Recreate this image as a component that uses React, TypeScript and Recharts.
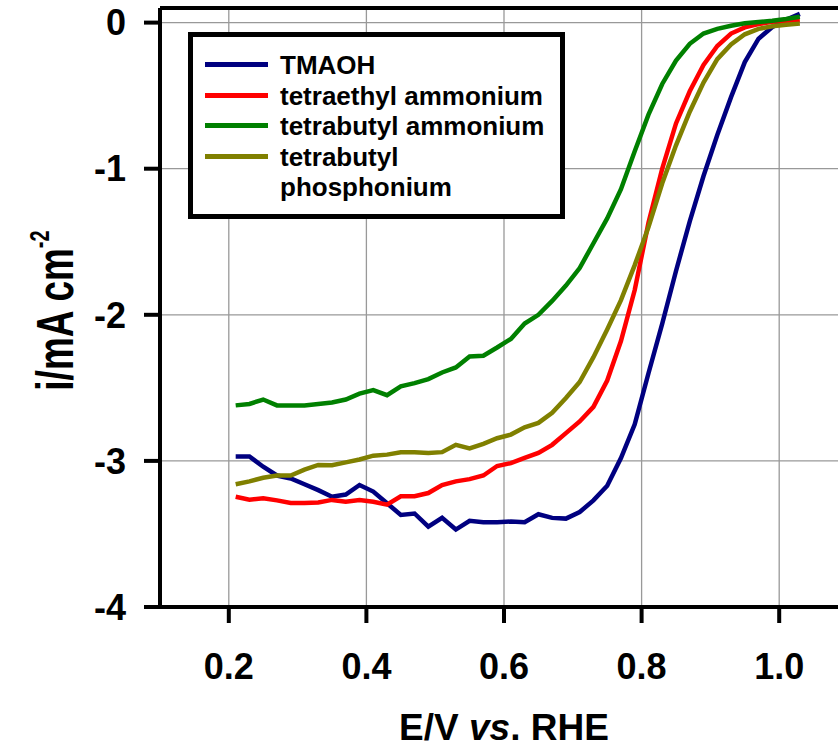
import React from 'react';
import { LineChart, Line, XAxis, YAxis, CartesianGrid, Legend, ReferenceLine } from 'recharts';

const FONT = '"Liberation Sans", Arial, Helvetica, sans-serif';

// Potential (V vs. RHE)
const voltage = [
  0.21, 0.23, 0.25, 0.27, 0.29, 0.31, 0.33, 0.35, 0.37, 0.39,
  0.41, 0.43, 0.45, 0.47, 0.49, 0.51, 0.53, 0.55, 0.57, 0.59,
  0.61, 0.63, 0.65, 0.67, 0.69, 0.71, 0.73, 0.75, 0.77, 0.79,
  0.81, 0.83, 0.85, 0.87, 0.89, 0.91, 0.93, 0.95, 0.97, 0.99,
  1.01, 1.03,
];

const tmaoh = [
  -2.97, -2.97, -3.04, -3.1, -3.12, -3.16, -3.2, -3.245, -3.23, -3.165,
  -3.21, -3.29, -3.37, -3.36, -3.45, -3.39, -3.47, -3.41, -3.42, -3.42,
  -3.415, -3.42, -3.365, -3.39, -3.395, -3.35, -3.27, -3.17, -2.98, -2.75,
  -2.4, -2.06, -1.7, -1.36, -1.05, -0.77, -0.51, -0.27, -0.11, -0.03,
  0.02, 0.06,
];

const tetraethylAmmonium = [
  -3.245, -3.265, -3.256, -3.27, -3.288, -3.288, -3.285, -3.267, -3.28, -3.268,
  -3.28, -3.3, -3.242, -3.242, -3.22, -3.165, -3.14, -3.125, -3.1, -3.035,
  -3.015, -2.98, -2.945, -2.89, -2.81, -2.73, -2.63, -2.45, -2.18, -1.83,
  -1.37, -1.0, -0.69, -0.47, -0.29, -0.16, -0.075, -0.033, -0.01, 0.005,
  0.012, 0.016,
];

const tetrabutylAmmonium = [
  -2.62, -2.61, -2.58, -2.62, -2.62, -2.62, -2.61, -2.6, -2.58, -2.54,
  -2.515, -2.55, -2.49, -2.468, -2.44, -2.395, -2.36, -2.285, -2.28, -2.224,
  -2.165, -2.06, -2.0, -1.905, -1.8, -1.68, -1.51, -1.34, -1.14, -0.88,
  -0.63, -0.42, -0.26, -0.145, -0.075, -0.043, -0.022, -0.005, 0.004, 0.013,
  0.025, 0.04,
];

const tetrabutylPhosphonium = [
  -3.16, -3.14, -3.115, -3.1, -3.1, -3.06, -3.028, -3.03, -3.01, -2.99,
  -2.964, -2.957, -2.941, -2.94, -2.946, -2.94, -2.89, -2.914, -2.883, -2.845,
  -2.82, -2.77, -2.74, -2.67, -2.57, -2.46, -2.29, -2.1, -1.9, -1.66,
  -1.4, -1.1, -0.84, -0.61, -0.41, -0.25, -0.15, -0.08, -0.043, -0.025,
  -0.015, -0.007,
];

const seriesNames = ['TMAOH', 'tetraethyl ammonium', 'tetrabutyl ammonium', 'tetrabutyl phosphonium'];
const seriesColors = ['#000080', '#ff0000', '#008000', '#808000'];
const xTicks = [0.2, 0.4, 0.6, 0.8, 1.0];
const yTicks = [-4, -3, -2, -1, 0];
const xDomain = [0.1, 1.1];
const yDomain = [-4, 0.1];

const data = voltage.map((v, i) => ({
  v,
  s0: tmaoh[i],
  s1: tetraethylAmmonium[i],
  s2: tetrabutylAmmonium[i],
  s3: tetrabutylPhosphonium[i],
}));

const tickStyle = { fontSize: 36, fontWeight: 700, fill: '#000', fontFamily: FONT };

const XTitle = (props: any) => {
  const vb = props.viewBox || { x: 160, width: 688 };
  const cx = vb.x + vb.width / 2;
  return (
    <text x={cx} y={740} textAnchor="middle" fontFamily={FONT} fontWeight={700} fontSize={37} fill="#000">
      {'E/V '}
      <tspan fontStyle="italic">vs</tspan>
      {'. RHE'}
    </text>
  );
};

const YTitle = (props: any) => {
  const vb = props.viewBox || { x: 0, y: 8, height: 599 };
  const x = vb.x + 73;
  const y = vb.y + vb.height / 2 + 3;
  return (
    <text
      transform={`translate(${x}, ${y}) rotate(-90) scale(1, 1.4)`}
      x={0}
      y={0}
      textAnchor="middle"
      fontFamily={FONT}
      fontWeight={700}
      fontSize={37}
      fill="#000"
    >
      {'i/mA cm'}
      <tspan dy={-17} fontSize={20}>-2</tspan>
    </text>
  );
};

const renderLegend = (props: any) => {
  const raw = props.payload || [];
  const payload = seriesNames
    .map((n) => raw.find((e: any) => e.value === n))
    .filter(Boolean);
  return (
    <div
      style={{
        boxSizing: 'border-box',
        width: 377,
        height: 187,
        border: '5px solid #000',
        background: '#fff',
        padding: '13px 0 0 12px',
        fontFamily: FONT,
        fontWeight: 700,
        fontSize: 26,
        color: '#000',
        textAlign: 'left',
      }}
    >
      {payload.map((entry: any) => (
        <div key={entry.value} style={{ display: 'flex', alignItems: 'flex-start', lineHeight: '30.5px' }}>
          <div style={{ width: 63, height: 5, background: entry.color, marginTop: 12, flex: 'none' }} />
          <div style={{ marginLeft: 12, width: 272 }}>{entry.value}</div>
        </div>
      ))}
    </div>
  );
};

export default function App() {
  const seriesKeys = ['s0', 's1', 's2', 's3'];
  return (
    <div style={{ position: 'absolute', left: 0, top: 0, width: 838, height: 744, overflow: 'hidden', background: '#fff' }}>
      <LineChart width={860} height={744} data={data} margin={{ top: 8, right: 12, bottom: 0, left: 0 }}>
        <CartesianGrid stroke="#999" strokeWidth={1.3} />
        <XAxis
          dataKey="v"
          type="number"
          domain={xDomain}
          ticks={xTicks}
          allowDataOverflow
          tickFormatter={(v: number) => v.toFixed(1)}
          height={137}
          tick={tickStyle}
          tickSize={16}
          tickMargin={30}
          axisLine={{ stroke: '#000', strokeWidth: 4 }}
          tickLine={{ stroke: '#000', strokeWidth: 4 }}
          label={<XTitle />}
        />
        <YAxis
          type="number"
          domain={yDomain}
          ticks={yTicks}
          allowDataOverflow
          tickFormatter={(v: number) => String(v)}
          width={160}
          tick={tickStyle}
          tickSize={16}
          tickMargin={18}
          axisLine={{ stroke: '#000', strokeWidth: 4 }}
          tickLine={{ stroke: '#000', strokeWidth: 4 }}
          label={<YTitle />}
        />
        <ReferenceLine y={0.1} stroke="#000" strokeWidth={4} ifOverflow="visible" />
        <ReferenceLine x={1.1} stroke="#000" strokeWidth={4} ifOverflow="visible" />
        {seriesKeys.map((k, i) => (
          <Line
            key={k}
            type="linear"
            dataKey={k}
            name={seriesNames[i]}
            stroke={seriesColors[i]}
            strokeWidth={4.5}
            dot={false}
            activeDot={false}
            isAnimationActive={false}
          />
        ))}
        <Legend
          layout="vertical"
          align="center"
          verticalAlign="middle"
          content={renderLegend}
          wrapperStyle={{ position: 'absolute', left: 188, top: 32, width: 377, height: 187 }}
        />
      </LineChart>
    </div>
  );
}
